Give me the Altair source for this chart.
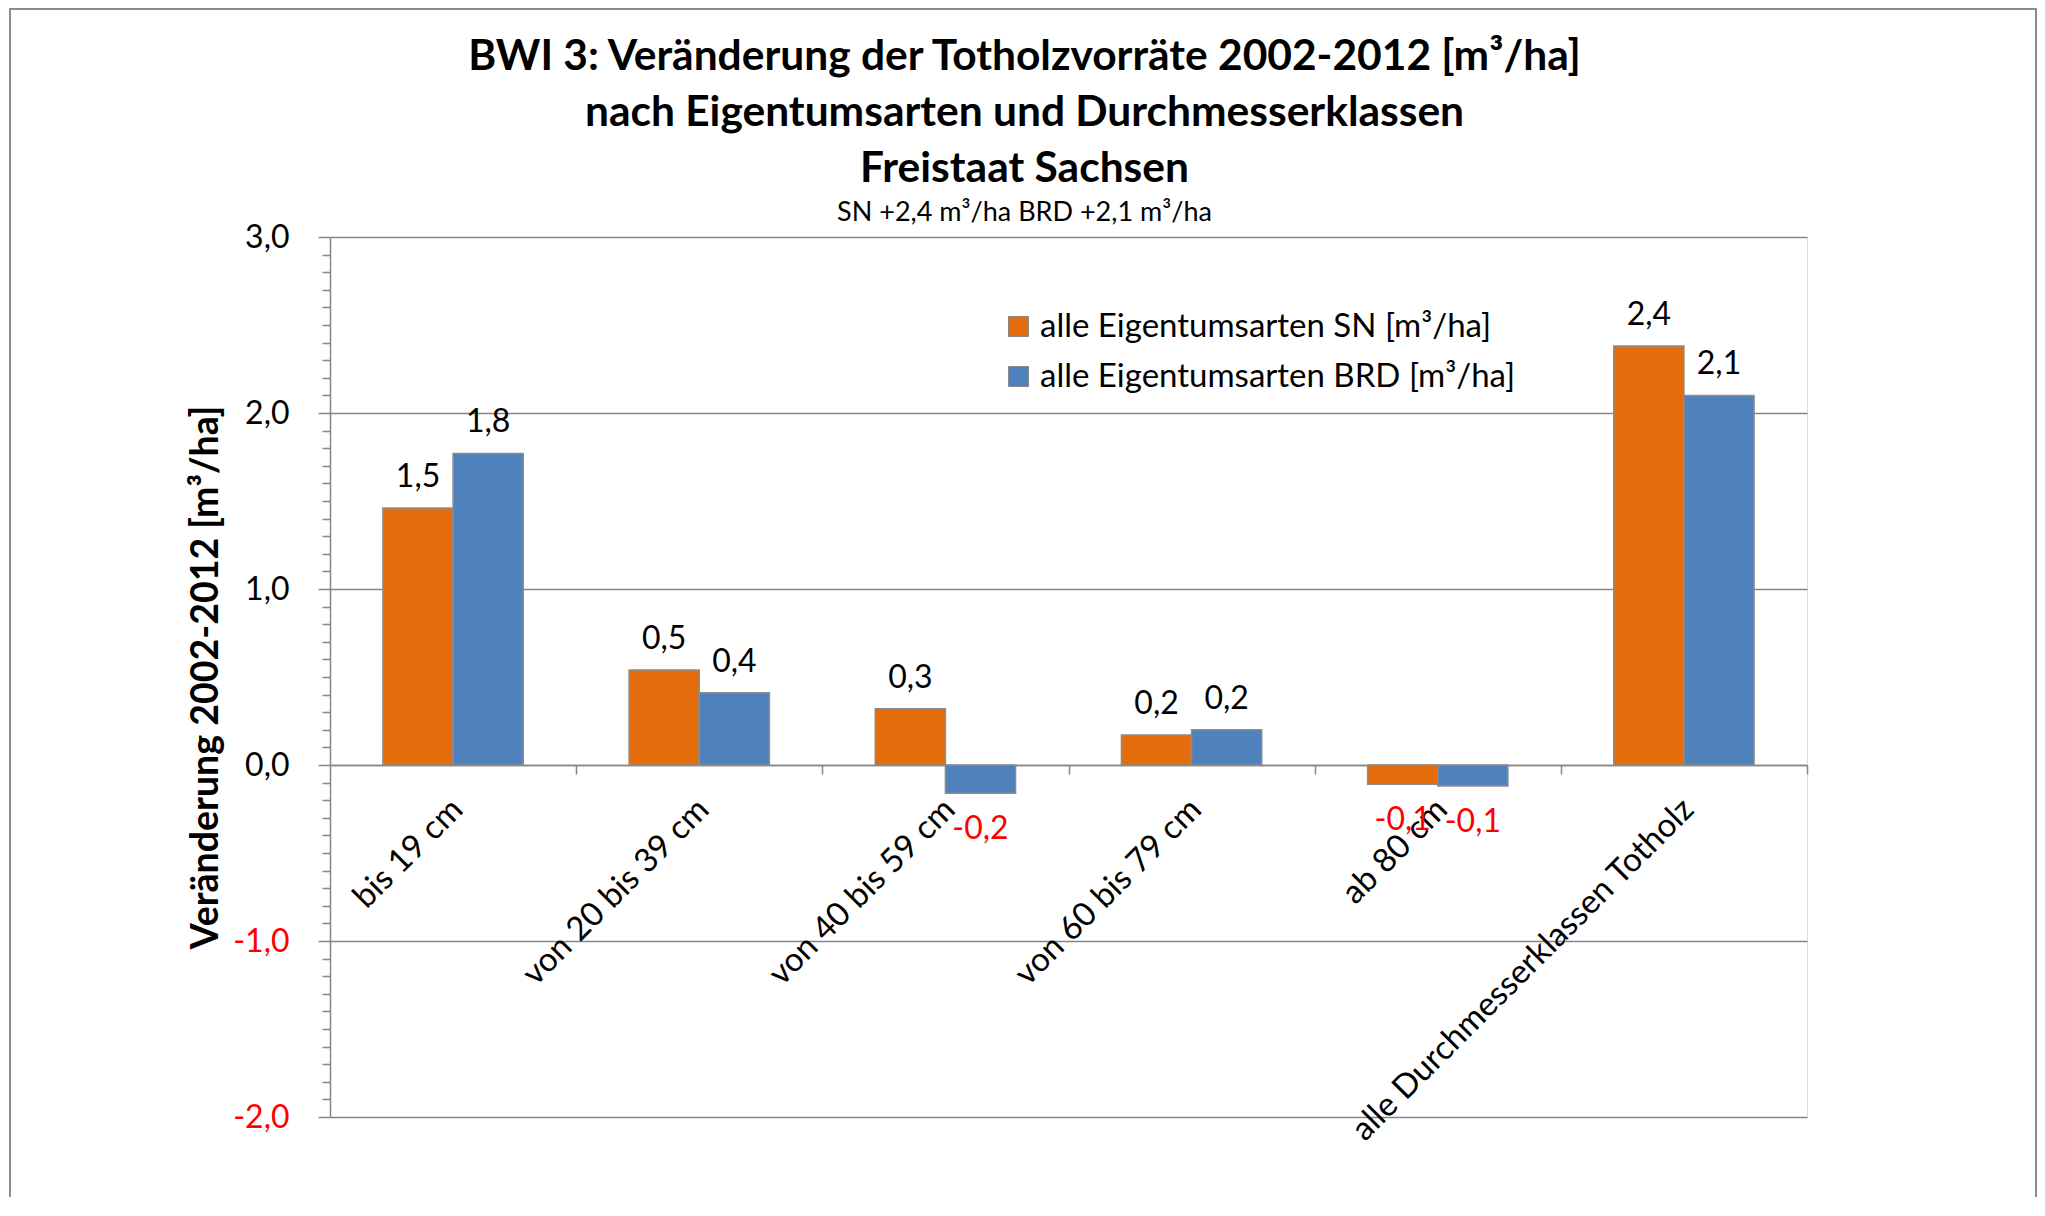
import altair as alt
import pandas as pd

categories = ["bis 19 cm", "von 20 bis 39 cm", "von 40 bis 59 cm",
              "von 60 bis 79 cm", "ab 80 cm", "alle Durchmesserklassen Totholz"]
series_names = ["alle Eigentumsarten SN [m³/ha]", "alle Eigentumsarten BRD [m³/ha]"]
sn_values = [1.46, 0.54, 0.32, 0.17, -0.11, 2.38]
brd_values = [1.77, 0.41, -0.16, 0.20, -0.12, 2.10]
y_major_ticks = [-2, -1, 0, 1, 2, 3]
y_all_ticks = [round(-2 + i * 0.1, 1) for i in range(51)]

title_lines = ["BWI 3: Veränderung der Totholzvorräte 2002-2012 [m³/ha]",
               "nach Eigentumsarten und Durchmesserklassen",
               "Freistaat Sachsen"]
subtitle_text = "SN +2,4 m³/ha BRD +2,1 m³/ha"
y_title = "Veränderung 2002-2012 [m³/ha]"

colors = ["#E46C0A", "#4F81BD"]
GRAY = "#868686"
W, H = 1477, 880
STEP = W / len(categories)
FONT = "Lato"
FS = 32

rows = []
for name, vals in zip(series_names, [sn_values, brd_values]):
    for c, v in zip(categories, vals):
        rows.append({"category": c, "series": name, "value": v,
                     "label": f"{v:.1f}".replace(".", ",")})
df = pd.DataFrame(rows)

x_enc = alt.X("category:N", sort=categories, title="",
              scale=alt.Scale(paddingInner=0.43, paddingOuter=0.215),
              axis=alt.Axis(offset=-H * 2 / 5, labelAngle=315, labelAlign="right",
                            labelBaseline="middle", labelFont=FONT, labelFontSize=33,
                            labelColor="black", labelPadding=30,
                            tickOffset=STEP / 2, labelOffset=4 - STEP / 2,
                            labelLimit=1000, labelOverlap=False, labelBound=False,
                            tickSize=9, tickColor=GRAY, tickWidth=1.5,
                            domainColor=GRAY, domainWidth=1.5, grid=False))
xoff_enc = alt.XOffset("series:N", sort=series_names,
                       scale=alt.Scale(paddingInner=0, paddingOuter=0))
INT_TEST = "abs(datum.value - round(datum.value)) < 0.001"
y_enc = alt.Y("value:Q",
              scale=alt.Scale(domain=[-2, 3], nice=False, zero=False),
              axis=alt.Axis(values=y_all_ticks,
                            labelExpr=f"{INT_TEST} ? replace(replace(format(datum.value, '.1f'), '.', ','), '\u2212', '-') : ''",
                            labelColor={"condition": {"test": "datum.value < -0.001", "value": "red"}, "value": "black"},
                            tickSize={"condition": {"test": INT_TEST, "value": 12}, "value": 8},
                            gridOpacity={"condition": {"test": INT_TEST, "value": 1}, "value": 0},
                            gridColor=GRAY, gridWidth=1.5, tickColor=GRAY, tickWidth=1.5,
                            domainColor=GRAY, domainWidth=1.5,
                            labelFont=FONT, labelFontSize=FS, labelPadding=29,
                            labelOverlap=False, labelBound=False,
                            title=y_title, titleFont=FONT, titleFontSize=37.5,
                            titleFontWeight="bold", titleColor="black", titlePadding=7))

base = alt.Chart(df)

bars = base.mark_bar(stroke="#8c8c8c", strokeWidth=1.5).encode(
    x=x_enc, xOffset=xoff_enc, y=y_enc,
    color=alt.Color("series:N", sort=series_names,
                    scale=alt.Scale(domain=series_names, range=colors),
                    legend=alt.Legend(title="", orient="none", legendX=672, legendY=73,
                                      symbolType="square", symbolSize=400,
                                      symbolStrokeColor="#888888", symbolStrokeWidth=1,
                                      symbolOpacity=1,
                                      labelFont=FONT, labelFontSize=33, labelColor="black",
                                      labelOffset=5, rowPadding=16, padding=0,
                                      labelLimit=1000)),
)

pos_labels = base.transform_filter("datum.value >= 0").mark_text(
    baseline="alphabetic", dy=-21, font=FONT, fontSize=FS, color="black"
).encode(x=x_enc, xOffset=xoff_enc, y=y_enc, text="label:N")

neg_labels = base.transform_filter("datum.value < 0").mark_text(
    baseline="alphabetic", dy=46, font=FONT, fontSize=FS, color="red"
).encode(x=x_enc, xOffset=xoff_enc, y=y_enc, text="label:N")

frame = alt.Chart(alt.Data(values=[{"f": 1}])).mark_rect(
    filled=False, stroke="#8c8c8c", strokeWidth=2
).encode(x=alt.value(-320), x2=alt.value(1706), y=alt.value(-228), y2=alt.value(1100))

chart = alt.layer(frame, bars, pos_labels, neg_labels).properties(
    width=W, height=H,
    title=alt.TitleParams(text=title_lines, subtitle=subtitle_text,
                          font=FONT, fontSize=42.5, fontWeight="bold", color="black",
                          lineHeight=56, subtitleFont=FONT, subtitleFontSize=27,
                          subtitleColor="black", subtitlePadding=10,
                          anchor="middle", frame="group", dx=-44, offset=-218),
    autosize=alt.AutoSizeParams(type="none"),
    padding={"left": 322, "top": 229, "right": 230, "bottom": 80},
).configure_view(stroke=GRAY, strokeWidth=1.5).configure(font=FONT, background="white")

chart.save("out.html", embed_options={"renderer": "svg", "actions": False})
